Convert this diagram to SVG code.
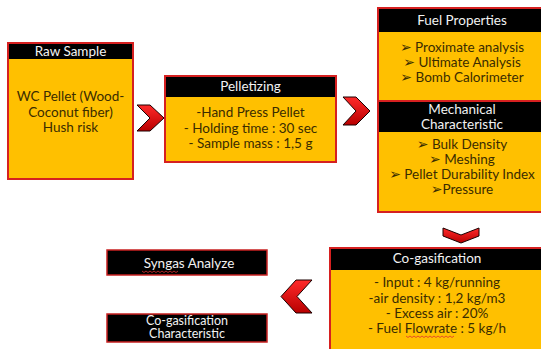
<svg xmlns="http://www.w3.org/2000/svg" width="541" height="349" viewBox="0 0 541 349">
<defs>
<linearGradient id="chev" x1="0" y1="0" x2="0" y2="1">
<stop offset="0" stop-color="#ff2a2a"/>
<stop offset="1" stop-color="#b80000"/>
</linearGradient>
</defs>
<style>
.body{fill:#ffc000}
.head{fill:#000}
.frame{fill:none;stroke:#d62020;stroke-width:2}
.ht{font-family:Lato,"Liberation Sans","DejaVu Sans",sans-serif;font-size:13.5px;fill:#f2f2f2;text-anchor:middle}
.bt{font-family:Lato,"Liberation Sans","DejaVu Sans",sans-serif;font-size:13.5px;fill:#3a2c00;text-anchor:middle}
.ar{font-family:"DejaVu Sans",sans-serif;font-size:14px}
.chev{fill:url(#chev);stroke:#1a0000;stroke-width:1}
.wavy{fill:none;stroke:#e03030;stroke-width:0.8}
</style>
<rect width="541" height="349" fill="#fff"/>

<g id="raw-sample">
<rect class="body" x="8" y="43" width="125" height="136"/>
<rect class="head" x="8" y="43" width="125" height="16"/>
<rect class="frame" x="8" y="43" width="125" height="136"/>
<text class="ht" x="70.5" y="56">Raw Sample</text>
<text class="bt" x="70.5" y="101">WC Pellet (Wood-</text>
<text class="bt" x="70.5" y="117">Coconut fiber)</text>
<text class="bt" x="70.5" y="132">Hush risk</text>
</g>

<g id="pelletizing">
<rect class="body" x="165" y="76" width="171" height="86"/>
<rect class="head" x="165" y="76" width="171" height="21"/>
<rect class="frame" x="165" y="76" width="171" height="86"/>
<text class="ht" x="250.5" y="91">Pelletizing</text>
<text class="bt" x="250.5" y="117">-Hand Press Pellet</text>
<text class="bt" x="250.5" y="133">- Holding time : 30 sec</text>
<text class="bt" x="250.5" y="148">- Sample mass : 1,5 g</text>
</g>

<g id="fuel-properties">
<rect class="body" x="378" y="8" width="170" height="93"/>
<rect class="head" x="378" y="8" width="170" height="24"/>
<rect class="frame" x="378" y="8" width="170" height="93"/>
<text class="ht" x="462" y="25">Fuel Properties</text>
<text class="bt" x="462" y="52"><tspan class="ar">➢</tspan> Proximate analysis</text>
<text class="bt" x="462" y="67"><tspan class="ar">➢</tspan> Ultimate Analysis</text>
<text class="bt" x="462" y="82"><tspan class="ar">➢</tspan> Bomb Calorimeter</text>
</g>

<g id="mechanical-characteristic">
<rect class="body" x="378" y="101" width="170" height="111"/>
<rect class="head" x="378" y="101" width="170" height="31"/>
<rect class="frame" x="378" y="101" width="170" height="111"/>
<text class="ht" x="462" y="114">Mechanical</text>
<text class="ht" x="462" y="129">Characteristic</text>
<text class="bt" x="462" y="149"><tspan class="ar">➢</tspan> Bulk Density</text>
<text class="bt" x="462" y="164"><tspan class="ar">➢</tspan> Meshing</text>
<text class="bt" x="462" y="179"><tspan class="ar">➢</tspan> Pellet Durability Index</text>
<text class="bt" x="462" y="194"><tspan class="ar">➢</tspan>Pressure</text>
</g>

<g id="co-gasification">
<rect class="body" x="330" y="248" width="220" height="110"/>
<rect class="head" x="330" y="248" width="220" height="22"/>
<rect class="frame" x="330" y="248" width="220" height="110"/>
<text class="ht" x="437" y="263">Co-gasification</text>
<text class="bt" x="437" y="287">- Input  : 4 kg/running</text>
<text class="bt" x="437" y="303">-air density : 1,2 kg/m3</text>
<text class="bt" x="437" y="318">- Excess air : 20%</text>
<text class="bt" x="437" y="333">- Fuel Flowrate : 5 kg/h</text>
<path class="wavy" d="M406,336 l2,1.5 l2,-1.5 l2,1.5 l2,-1.5 l2,1.5 l2,-1.5 l2,1.5 l2,-1.5 l2,1.5 l2,-1.5 l2,1.5 l2,-1.5 l2,1.5 l2,-1.5 l2,1.5 l2,-1.5 l2,1.5 l2,-1.5 l2,1.5 l2,-1.5 l2,1.5 l2,-1.5 l2,1.5 l2,-1.5"/>
</g>

<g id="syngas-analyze">
<rect x="107" y="250" width="160" height="25" fill="#000" stroke="#c82020" stroke-width="1.5"/>
<text class="ht" x="189" y="268">Syngas Analyze</text>
<path class="wavy" d="M142,271 l2,1.5 l2,-1.5 l2,1.5 l2,-1.5 l2,1.5 l2,-1.5 l2,1.5 l2,-1.5 l2,1.5 l2,-1.5 l2,1.5 l2,-1.5 l2,1.5 l2,-1.5 l2,1.5 l2,-1.5 l2,1.5 l2,-1.5"/>
</g>

<g id="co-gasification-characteristic">
<rect x="107" y="314" width="160" height="28" fill="#000" stroke="#c82020" stroke-width="1.5"/>
<text class="ht" x="187" y="324.5" style="font-size:12.5px">Co-gasification</text>
<text class="ht" x="187" y="338" style="font-size:12.5px">Characteristic</text>
</g>

<g id="connectors">
<path class="chev" d="M137,105 L150,105 L164,118 L150,131 L137,131 L150,118 Z"/>
<path class="chev" d="M343,97 L356,97 L370,111 L356,125 L343,125 L356,111 Z"/>
<path class="chev" d="M443,228 L461,235 L479,228 L479,236 L461,243 L443,236 Z"/>
<path class="chev" d="M296,280 L312,280 L297,296.5 L312,313 L296,313 L281,296.5 Z"/>
</g>
</svg>
